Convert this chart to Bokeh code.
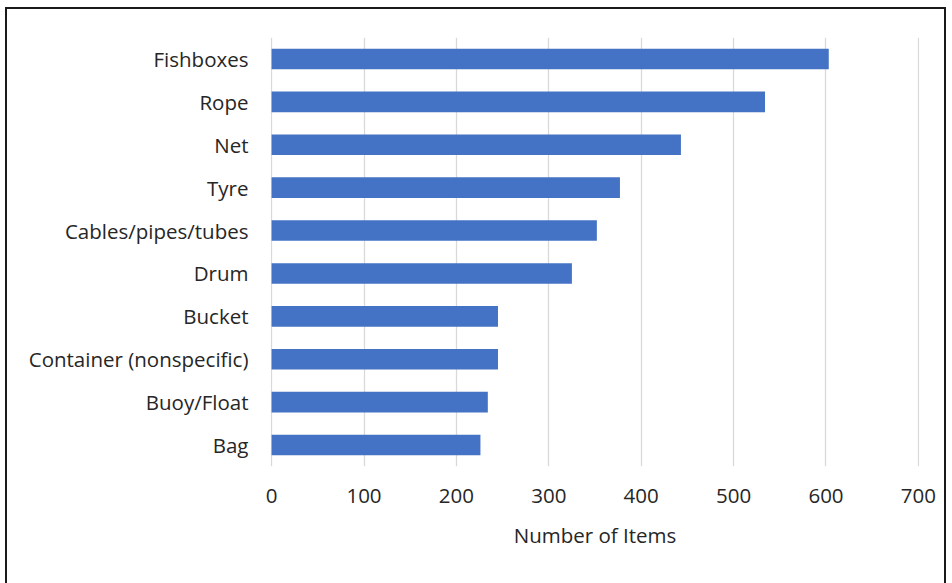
from bokeh.plotting import figure
from bokeh.models import Range1d, FactorRange, FixedTicker, InlineStyleSheet
from bokeh.embed import file_html
from bokeh.resources import INLINE

# Marine litter items counted, by category
categories = ["Fishboxes", "Rope", "Net", "Tyre", "Cables/pipes/tubes",
              "Drum", "Bucket", "Container (nonspecific)", "Buoy/Float", "Bag"]
counts = [603, 534, 443, 377, 352, 325, 245, 245, 234, 226]
x_ticks = [0, 100, 200, 300, 400, 500, 600, 700]
x_title = "Number of Items"

FONT = "Open Sans"
TEXT = "#262626"
SIZE = "20.5px"

p = figure(
    width=952, height=583,
    y_range=FactorRange(*reversed(categories)),
    x_range=Range1d(-1.2, 701.2),
    output_backend="svg", toolbar_location=None,
    min_border_left=270, min_border_right=33,
    min_border_top=37, min_border_bottom=117,
)

p.hbar(y=categories, right=counts, left=0, height=0.48,
       fill_color="#4472C4", line_color="#4472C4", line_width=0)

# light vertical gridlines only
p.xaxis.ticker = FixedTicker(ticks=x_ticks)
p.xgrid.grid_line_color = "#D9D9D9"
p.xgrid.grid_line_width = 1.3
p.ygrid.grid_line_color = None
p.outline_line_color = None

for ax in (p.xaxis[0], p.yaxis[0]):
    ax.axis_line_color = None
    ax.major_tick_line_color = None
    ax.minor_tick_line_color = None
    ax.major_label_text_font = FONT
    ax.major_label_text_font_size = SIZE
    ax.major_label_text_color = TEXT

p.yaxis.major_label_standoff = 16
p.xaxis.major_label_standoff = 16
p.xaxis.axis_label = x_title
p.xaxis.axis_label_text_font = FONT
p.xaxis.axis_label_text_font_size = SIZE
p.xaxis.axis_label_text_font_style = "normal"
p.xaxis.axis_label_text_color = TEXT
p.xaxis.axis_label_standoff = 15

# dark frame around the whole chart area
p.stylesheets = [InlineStyleSheet(css="""
:host { position: relative; overflow: hidden; }
:host::after {
  content: ""; position: absolute; left: 5px; top: 7px;
  width: 941px; height: 620px; box-sizing: border-box;
  border: 2px solid #1a1a1a; pointer-events: none;
}
""")]

open("out.html", "w").write(file_html(p, INLINE))
